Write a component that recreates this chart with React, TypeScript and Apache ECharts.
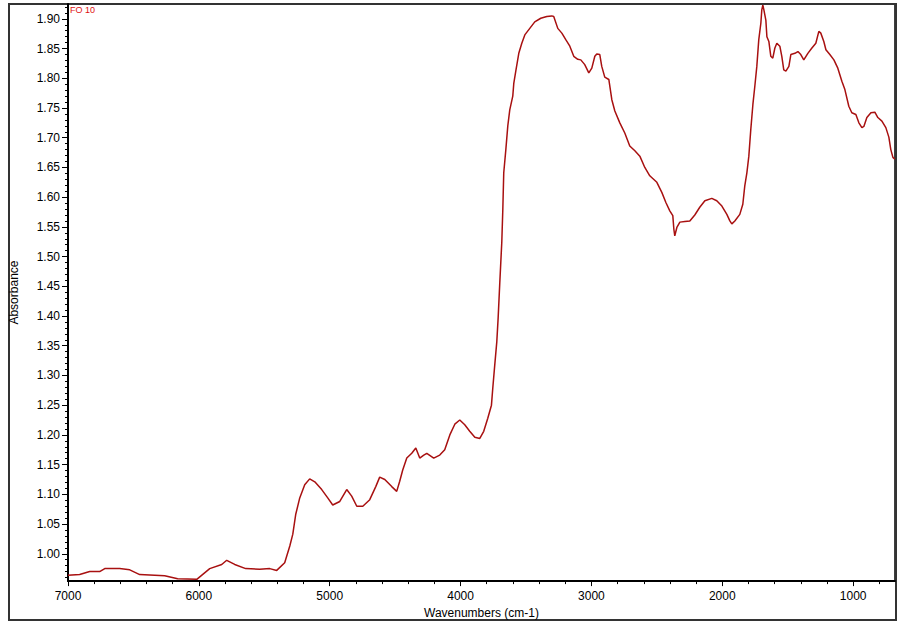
import React, { useEffect, useRef } from "react";
import * as echarts from "echarts";

const wavenumbers = [
  7000, 6911, 6834, 6758, 6719, 6605, 6528, 6452, 6261, 6162, 6016, 5917, 5825, 5787, 5726, 5642, 5535, 5458, 5405, 5344,
  5305, 5282, 5260, 5229, 5191, 5153, 5114, 5061, 5015, 4977, 4923, 4870, 4832, 4793, 4747, 4694, 4648, 4618, 4579, 4526,
  4488, 4465, 4442, 4411, 4373, 4342, 4312, 4281, 4258, 4205, 4159, 4121, 4082, 4044, 4006, 3968, 3930, 3891, 3853, 3823,
  3792, 3764, 3754, 3739, 3723, 3713, 3700, 3685, 3677, 3670, 3654, 3639, 3624, 3601, 3593, 3578, 3555, 3532, 3509, 3471,
  3433, 3387, 3341, 3303, 3288, 3257, 3226, 3196, 3165, 3135, 3104, 3081, 3051, 3020, 2997, 2974, 2959, 2936, 2921, 2898,
  2867, 2844, 2821, 2783, 2745, 2707, 2668, 2630, 2592, 2554, 2500, 2462, 2431, 2401, 2378, 2370, 2363, 2347, 2324, 2286,
  2248, 2210, 2172, 2133, 2080, 2042, 2003, 1965, 1942, 1927, 1904, 1866, 1843, 1828, 1812, 1797, 1782, 1766, 1751, 1736,
  1721, 1705, 1698, 1690, 1682, 1667, 1659, 1644, 1629, 1614, 1598, 1583, 1560, 1545, 1530, 1514, 1491, 1476, 1445, 1422,
  1400, 1377, 1346, 1315, 1285, 1262, 1247, 1224, 1208, 1178, 1147, 1117, 1086, 1063, 1033, 1010, 979, 956, 933, 918,
  895, 864, 834, 811, 780, 750, 727, 712, 696, 681,
];

const absorbance = [
  0.964, 0.965, 0.970, 0.970, 0.975, 0.975, 0.973, 0.965, 0.963, 0.958, 0.957, 0.975, 0.982, 0.989, 0.982, 0.975, 0.974, 0.975, 0.972, 0.985,
  1.013, 1.033, 1.066, 1.094, 1.116, 1.126, 1.121, 1.108, 1.094, 1.082, 1.088, 1.108, 1.097, 1.080, 1.080, 1.091, 1.113, 1.129, 1.125, 1.113,
  1.105, 1.122, 1.141, 1.161, 1.169, 1.178, 1.161, 1.166, 1.169, 1.161, 1.166, 1.175, 1.200, 1.218, 1.225, 1.217, 1.206, 1.196, 1.194, 1.206,
  1.228, 1.250, 1.278, 1.317, 1.357, 1.396, 1.457, 1.524, 1.580, 1.641, 1.680, 1.720, 1.747, 1.770, 1.792, 1.812, 1.842, 1.859, 1.873, 1.884,
  1.895, 1.901, 1.904, 1.905, 1.904, 1.884, 1.876, 1.865, 1.854, 1.837, 1.832, 1.831, 1.823, 1.809, 1.817, 1.837, 1.841, 1.840, 1.820, 1.802,
  1.798, 1.764, 1.745, 1.725, 1.708, 1.686, 1.678, 1.669, 1.650, 1.636, 1.625, 1.608, 1.591, 1.577, 1.569, 1.546, 1.535, 1.549, 1.558, 1.559,
  1.560, 1.570, 1.583, 1.594, 1.598, 1.594, 1.585, 1.571, 1.560, 1.555, 1.560, 1.571, 1.588, 1.619, 1.641, 1.669, 1.714, 1.756, 1.787, 1.820,
  1.865, 1.893, 1.915, 1.923, 1.915, 1.898, 1.870, 1.862, 1.837, 1.834, 1.851, 1.859, 1.854, 1.837, 1.814, 1.812, 1.820, 1.840, 1.842, 1.845,
  1.840, 1.831, 1.842, 1.851, 1.859, 1.879, 1.876, 1.862, 1.848, 1.840, 1.831, 1.817, 1.795, 1.781, 1.753, 1.742, 1.739, 1.725, 1.717, 1.719,
  1.734, 1.742, 1.743, 1.734, 1.728, 1.717, 1.701, 1.680, 1.667, 1.664,
];

const xMajorTicks = [7000, 6000, 5000, 4000, 3000, 2000, 1000];
const xMinorTicks = [
  6800, 6600, 6400, 6200, 5800, 5600, 5400, 5200, 4800, 4600, 4400, 4200, 3800, 3600, 3400, 3200,
  2800, 2600, 2400, 2200, 1800, 1600, 1400, 1200, 800,
];
const yMajorTicks = [1.0, 1.05, 1.1, 1.15, 1.2, 1.25, 1.3, 1.35, 1.4, 1.45, 1.5, 1.55, 1.6, 1.65, 1.7, 1.75, 1.8, 1.85, 1.9];
const yMinorTicks: number[] = [];
for (let k = 96; k <= 192; k++) {
  if (k % 5 !== 0) yMinorTicks.push(k / 100);
}

const X_MIN = 680;
const X_MAX = 7000;
const Y_MIN = 0.954;
const Y_MAX = 1.925;
const FONT = "'Liberation Sans', Arial, sans-serif";

export default function App() {
  const ref = useRef<HTMLDivElement>(null);

  useEffect(() => {
    if (!ref.current) return;
    const chart = echarts.init(ref.current, undefined, { renderer: "svg" });
    const data = wavenumbers.map((w, i) => [w, absorbance[i]]);
    const option: any = {
      animation: false,
      backgroundColor: "#ffffff",
      textStyle: { fontFamily: FONT },
      grid: {
        left: 68,
        right: 5,
        top: 4,
        bottom: 41,
        show: true,
        borderColor: "#000",
        borderWidth: 1.5,
        backgroundColor: "transparent",
      },
      xAxis: [
        {
          type: "value",
          min: X_MIN,
          max: X_MAX,
          inverse: true,
          position: "bottom",
          name: "Wavenumbers (cm-1)",
          nameLocation: "middle",
          nameGap: 21,
          nameTextStyle: { fontSize: 12, color: "#000", fontFamily: FONT },
          axisLine: { show: true, onZero: false, lineStyle: { color: "#000", width: 2 } },
          axisTick: { show: true, customValues: xMajorTicks, length: 5, lineStyle: { color: "#000", width: 1 } },
          axisLabel: {
            show: true,
            customValues: xMajorTicks,
            margin: 9,
            fontSize: 12,
            color: "#000",
            fontFamily: FONT,
            formatter: (v: number) => String(Math.round(v)),
          },
          splitLine: { show: false },
        },
        {
          type: "value",
          min: X_MIN,
          max: X_MAX,
          inverse: true,
          position: "bottom",
          axisLine: { show: false, onZero: false },
          axisTick: { show: true, customValues: xMinorTicks, length: 3, lineStyle: { color: "#000", width: 1 } },
          axisLabel: { show: false },
          splitLine: { show: false },
        },
      ],
      yAxis: [
        {
          type: "value",
          min: Y_MIN,
          max: Y_MAX,
          position: "left",
          name: "Absorbance",
          nameLocation: "middle",
          nameRotate: 90,
          nameGap: 48,
          nameTextStyle: { fontSize: 12, color: "#000", fontFamily: FONT },
          axisLine: { show: true, onZero: false, lineStyle: { color: "#000", width: 2 } },
          axisTick: { show: true, customValues: yMajorTicks, length: 6, lineStyle: { color: "#000", width: 1 } },
          axisLabel: {
            show: true,
            customValues: yMajorTicks,
            margin: 8,
            fontSize: 12,
            color: "#000",
            fontFamily: FONT,
            formatter: (v: number) => v.toFixed(2),
          },
          splitLine: { show: false },
        },
        {
          type: "value",
          min: Y_MIN,
          max: Y_MAX,
          position: "left",
          axisLine: { show: false, onZero: false },
          axisTick: { show: true, customValues: yMinorTicks, length: 3, lineStyle: { color: "#000", width: 1 } },
          axisLabel: { show: false },
          splitLine: { show: false },
        },
      ],
      series: [
        {
          type: "line",
          xAxisIndex: 0,
          yAxisIndex: 0,
          data,
          showSymbol: false,
          symbol: "none",
          lineStyle: { color: "#a81010", width: 1.5 },
          itemStyle: { color: "#a81010" },
        },
      ],
      graphic: [
        {
          type: "rect",
          shape: { x: 9, y: 4, width: 887, height: 616 },
          style: { fill: "none", stroke: "#333", lineWidth: 2 },
          silent: true,
        },
        {
          type: "text",
          x: 70,
          y: 9.5,
          style: {
            text: "FO 10",
            fill: "#e01010",
            fontSize: 9,
            fontFamily: FONT,
            verticalAlign: "middle",
            align: "left",
          },
          silent: true,
        },
      ],
    };
    chart.setOption(option);
    return () => chart.dispose();
  }, []);

  return (
    <div
      ref={ref}
      style={{ position: "absolute", left: 0, top: 0, width: 900, height: 624, background: "#fff" }}
    />
  );
}
